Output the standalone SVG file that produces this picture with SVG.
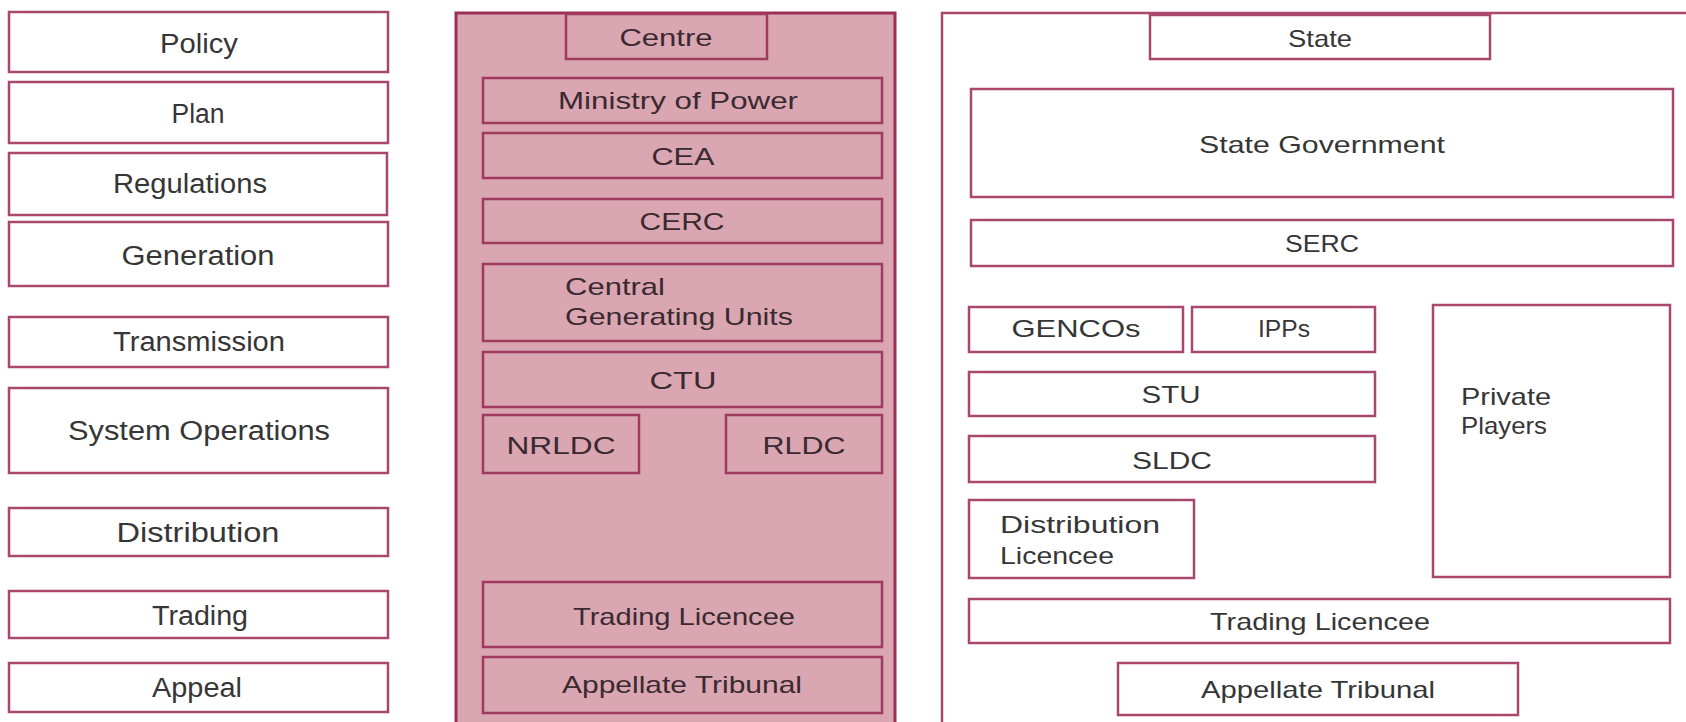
<svg xmlns="http://www.w3.org/2000/svg" width="1686" height="722" viewBox="0 0 1686 722">
<style>
.b{fill:#ffffff;stroke:#a9486c;stroke-width:2.5}
.p{fill:#d9a6b2;stroke:#a03a60;stroke-width:2.5}
.pf{fill:#d9a6b2;stroke:#9c2f58;stroke-width:3}
.t{font-family:"Liberation Sans",Arial,sans-serif;font-size:27px;fill:#363636;text-anchor:middle}
.m{font-family:"Liberation Sans",Arial,sans-serif;font-size:24px;fill:#3a2a30;text-anchor:middle}
.r{font-family:"Liberation Sans",Arial,sans-serif;font-size:24px;fill:#363636;text-anchor:middle}
.l{text-anchor:start}
</style>
<rect width="1686" height="722" fill="#ffffff"/>
<g id="left">
<g id="policy"><rect class="b" x="9" y="12" width="379" height="60"/><text class="t" x="199" y="53" textLength="78" lengthAdjust="spacingAndGlyphs">Policy</text></g>
<g id="plan"><rect class="b" x="9" y="82" width="379" height="61"/><text class="t" x="198" y="123" textLength="53" lengthAdjust="spacingAndGlyphs">Plan</text></g>
<g id="regulations"><rect class="b" x="9" y="153" width="378" height="62"/><text class="t" x="190" y="193" textLength="154" lengthAdjust="spacingAndGlyphs">Regulations</text></g>
<g id="generation"><rect class="b" x="9" y="222" width="379" height="64"/><text class="t" x="198" y="265" textLength="153" lengthAdjust="spacingAndGlyphs">Generation</text></g>
<g id="transmission"><rect class="b" x="9" y="317" width="379" height="50"/><text class="t" x="199" y="351" textLength="172" lengthAdjust="spacingAndGlyphs">Transmission</text></g>
<g id="sysops"><rect class="b" x="9" y="388" width="379" height="85"/><text class="t" x="199" y="440" textLength="262" lengthAdjust="spacingAndGlyphs">System Operations</text></g>
<g id="distribution"><rect class="b" x="9" y="508" width="379" height="48"/><text class="t" x="198" y="542" textLength="163" lengthAdjust="spacingAndGlyphs">Distribution</text></g>
<g id="trading"><rect class="b" x="9" y="591" width="379" height="47"/><text class="t" x="200" y="625" textLength="96" lengthAdjust="spacingAndGlyphs">Trading</text></g>
<g id="appeal"><rect class="b" x="9" y="663" width="379" height="49"/><text class="t" x="197" y="697" textLength="90" lengthAdjust="spacingAndGlyphs">Appeal</text></g>
</g>
<g id="centre-panel">
<rect class="pf" x="456" y="13" width="439" height="712"/>
<g id="centre"><rect class="p" x="566" y="14" width="201" height="45"/><text class="m" x="666" y="46" textLength="93" lengthAdjust="spacingAndGlyphs">Centre</text></g>
<g id="mop"><rect class="p" x="483" y="78" width="399" height="45"/><text class="m" x="678" y="109" textLength="240" lengthAdjust="spacingAndGlyphs">Ministry of Power</text></g>
<g id="cea"><rect class="p" x="483" y="133" width="399" height="45"/><text class="m" x="683" y="165" textLength="63" lengthAdjust="spacingAndGlyphs">CEA</text></g>
<g id="cerc"><rect class="p" x="483" y="199" width="399" height="44"/><text class="m" x="682" y="230" textLength="85" lengthAdjust="spacingAndGlyphs">CERC</text></g>
<g id="cgu"><rect class="p" x="483" y="264" width="399" height="77"/><text class="m l" x="565" y="295" textLength="100" lengthAdjust="spacingAndGlyphs">Central</text><text class="m l" x="565" y="325" textLength="228" lengthAdjust="spacingAndGlyphs">Generating Units</text></g>
<g id="ctu"><rect class="p" x="483" y="352" width="399" height="55"/><text class="m" x="683" y="389" textLength="67" lengthAdjust="spacingAndGlyphs">CTU</text></g>
<g id="nrldc"><rect class="p" x="483" y="415" width="156" height="58"/><text class="m" x="561" y="454" textLength="109" lengthAdjust="spacingAndGlyphs">NRLDC</text></g>
<g id="rldc"><rect class="p" x="726" y="415" width="156" height="58"/><text class="m" x="804" y="454" textLength="83" lengthAdjust="spacingAndGlyphs">RLDC</text></g>
<g id="c-trading"><rect class="p" x="483" y="582" width="399" height="65"/><text class="m" x="684" y="625" textLength="222" lengthAdjust="spacingAndGlyphs">Trading Licencee</text></g>
<g id="c-appellate"><rect class="p" x="483" y="657" width="399" height="56"/><text class="m" x="682" y="693" textLength="240" lengthAdjust="spacingAndGlyphs">Appellate Tribunal</text></g>
</g>
<g id="state-panel">
<rect class="b" x="942" y="13" width="760" height="712"/>
<g id="state"><rect class="b" x="1150" y="15" width="340" height="44"/><text class="r" x="1320" y="47" textLength="64" lengthAdjust="spacingAndGlyphs">State</text></g>
<g id="stategov"><rect class="b" x="971" y="89" width="702" height="108"/><text class="r" x="1322" y="153" textLength="246" lengthAdjust="spacingAndGlyphs">State Government</text></g>
<g id="serc"><rect class="b" x="971" y="220" width="702" height="46"/><text class="r" x="1322" y="252" textLength="74" lengthAdjust="spacingAndGlyphs">SERC</text></g>
<g id="gencos"><rect class="b" x="969" y="307" width="214" height="45"/><text class="r" x="1076" y="337" textLength="129" lengthAdjust="spacingAndGlyphs">GENCOs</text></g>
<g id="ipps"><rect class="b" x="1192" y="307" width="183" height="45"/><text class="r" x="1284" y="337" textLength="52" lengthAdjust="spacingAndGlyphs">IPPs</text></g>
<g id="private"><rect class="b" x="1433" y="305" width="237" height="272"/><text class="r l" x="1461" y="405" textLength="90" lengthAdjust="spacingAndGlyphs">Private</text><text class="r l" x="1461" y="434" textLength="86" lengthAdjust="spacingAndGlyphs">Players</text></g>
<g id="stu"><rect class="b" x="969" y="372" width="406" height="44"/><text class="r" x="1171" y="403" textLength="59" lengthAdjust="spacingAndGlyphs">STU</text></g>
<g id="sldc"><rect class="b" x="969" y="436" width="406" height="46"/><text class="r" x="1172" y="469" textLength="80" lengthAdjust="spacingAndGlyphs">SLDC</text></g>
<g id="distlic"><rect class="b" x="969" y="500" width="225" height="78"/><text class="r l" x="1000" y="533" textLength="160" lengthAdjust="spacingAndGlyphs">Distribution</text><text class="r l" x="1000" y="564" textLength="114" lengthAdjust="spacingAndGlyphs">Licencee</text></g>
<g id="s-trading"><rect class="b" x="969" y="599" width="701" height="44"/><text class="r" x="1320" y="630" textLength="220" lengthAdjust="spacingAndGlyphs">Trading Licencee</text></g>
<g id="s-appellate"><rect class="b" x="1118" y="663" width="400" height="52"/><text class="r" x="1318" y="698" textLength="234" lengthAdjust="spacingAndGlyphs">Appellate Tribunal</text></g>
</g>
<g id="connectors"></g>
</svg>
